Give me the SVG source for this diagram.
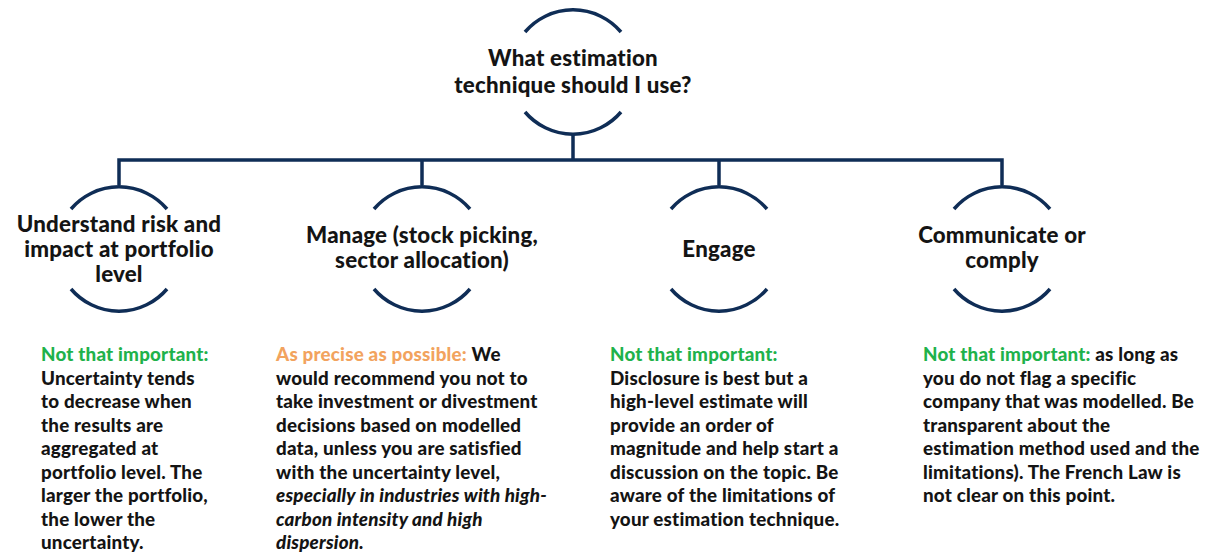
<svg xmlns="http://www.w3.org/2000/svg" width="1216" height="557" viewBox="0 0 1216 557">
<style>
.arc{fill:none;stroke:#0f2d56;stroke-width:3.5;}
.ln{fill:none;stroke:#0f2d56;stroke-width:3.5;}
.t{font-family:Lato,"Liberation Sans",sans-serif;font-weight:900;fill:#141414;}
.h{font-size:22.3px;text-anchor:middle;letter-spacing:0.2px;}
.b{font-size:18.8px;letter-spacing:0.2px;}
.g{fill:#1fb24b;}
.o{fill:#f2a35e;}
.i{font-style:italic;}
</style>
<defs>
<path id="circ" d="M-48,-40 A63,63 0 0 1 48,-40 M-48,40 A63,63 0 0 0 48,40"/>
</defs>
<g id="connectors">
<path class="ln" d="M573,135 V160 M119,185 V160 H1002 V185 M422,160 V185 M719,160 V185"/>
</g>
<g id="root">
<use href="#circ" class="arc" transform="translate(573,72)"/>
<text class="t h" x="573" y="66">What estimation</text>
<text class="t h" x="573" y="93">technique should I use?</text>
</g>
<g id="node-understand">
<use href="#circ" class="arc" transform="translate(119,249)"/>
<text class="t h" x="119" y="232">Understand risk and</text>
<text class="t h" x="119" y="257">impact at portfolio</text>
<text class="t h" x="119" y="282">level</text>
</g>
<g id="node-manage">
<use href="#circ" class="arc" transform="translate(422,249)"/>
<text class="t h" x="422" y="243">Manage (stock picking,</text>
<text class="t h" x="422" y="268">sector allocation)</text>
</g>
<g id="node-engage">
<use href="#circ" class="arc" transform="translate(719,249)"/>
<text class="t h" x="719" y="257">Engage</text>
</g>
<g id="node-communicate">
<use href="#circ" class="arc" transform="translate(1002,249)"/>
<text class="t h" x="1002" y="243">Communicate or</text>
<text class="t h" x="1002" y="268">comply</text>
</g>
<g id="desc-understand">
<text class="t b" x="41" y="361">
<tspan class="g">Not that important:</tspan>
<tspan x="41" dy="23.5">Uncertainty tends</tspan>
<tspan x="41" dy="23.5">to decrease when</tspan>
<tspan x="41" dy="23.5">the results are</tspan>
<tspan x="41" dy="23.5">aggregated at</tspan>
<tspan x="41" dy="23.5">portfolio level. The</tspan>
<tspan x="41" dy="23.5">larger the portfolio,</tspan>
<tspan x="41" dy="23.5">the lower the</tspan>
<tspan x="41" dy="23.5">uncertainty.</tspan>
</text>
</g>
<g id="desc-manage">
<text class="t b" x="276" y="361">
<tspan class="o">As precise as possible:</tspan> We
<tspan x="276" dy="23.5">would recommend you not to</tspan>
<tspan x="276" dy="23.5">take investment or divestment</tspan>
<tspan x="276" dy="23.5">decisions based on modelled</tspan>
<tspan x="276" dy="23.5">data, unless you are satisfied</tspan>
<tspan x="276" dy="23.5">with the uncertainty level,</tspan>
<tspan x="276" dy="23.5" class="i">especially in industries with high-</tspan>
<tspan x="276" dy="23.5" class="i">carbon intensity and high</tspan>
<tspan x="276" dy="23.5" class="i">dispersion.</tspan>
</text>
</g>
<g id="desc-engage">
<text class="t b" x="610" y="361">
<tspan class="g">Not that important:</tspan>
<tspan x="610" dy="23.5">Disclosure is best but a</tspan>
<tspan x="610" dy="23.5">high-level estimate  will</tspan>
<tspan x="610" dy="23.5">provide an order of</tspan>
<tspan x="610" dy="23.5">magnitude and help start a</tspan>
<tspan x="610" dy="23.5">discussion on the topic. Be</tspan>
<tspan x="610" dy="23.5">aware of the limitations of</tspan>
<tspan x="610" dy="23.5">your estimation technique.</tspan>
</text>
</g>
<g id="desc-communicate">
<text class="t b" x="923" y="361">
<tspan class="g">Not that important:</tspan> as long as
<tspan x="923" dy="23.5">you do not flag a specific</tspan>
<tspan x="923" dy="23.5">company that was modelled. Be</tspan>
<tspan x="923" dy="23.5">transparent about the</tspan>
<tspan x="923" dy="23.5">estimation method used and the</tspan>
<tspan x="923" dy="23.5">limitations). The French Law is</tspan>
<tspan x="923" dy="23.5">not clear on this point.</tspan>
</text>
</g>
</svg>
